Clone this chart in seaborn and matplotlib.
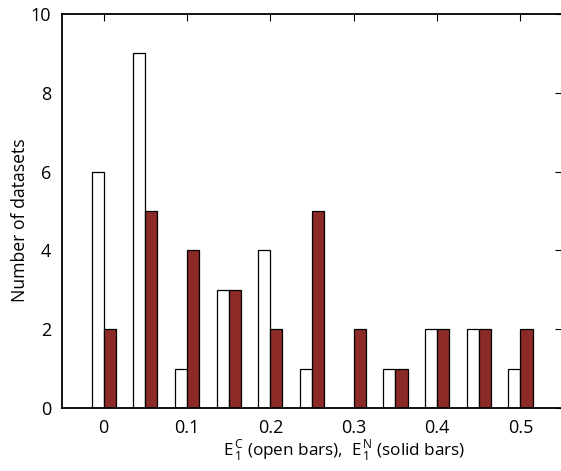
import matplotlib
matplotlib.use("Agg")
import matplotlib.pyplot as plt
import numpy as np
import pandas as pd
import seaborn as sns

# bin centres and counts
bin_centres = [0.0, 0.05, 0.1, 0.15, 0.2, 0.25, 0.3, 0.35, 0.4, 0.45, 0.5]
open_counts = [6, 9, 1, 3, 4, 1, 0, 1, 2, 2, 1]    # E_1^C
solid_counts = [2, 5, 4, 3, 2, 5, 2, 1, 2, 2, 2]   # E_1^N
x_ticks = [0, 0.1, 0.2, 0.3, 0.4, 0.5]
x_tick_labels = ["0", "0.1", "0.2", "0.3", "0.4", "0.5"]
y_ticks = [0, 2, 4, 6, 8, 10]

sns.set_style("white")
plt.rcParams["font.family"] = ["Open Sans", "DejaVu Sans"]
plt.rcParams["mathtext.fontset"] = "custom"
plt.rcParams["mathtext.rm"] = "Open Sans"

df = pd.DataFrame({
    "x": bin_centres * 2,
    "count": open_counts + solid_counts,
    "kind": ["open"] * len(bin_centres) + ["solid"] * len(bin_centres),
})

fig = plt.figure(figsize=(5.61, 4.71), dpi=100)
ax = fig.add_axes([62 / 561, 1 - 408 / 471, 1 - 62 / 561 + 0.002, (408 - 14) / 471])

sns.barplot(
    data=df,
    x="x",
    y="count",
    hue="kind",
    native_scale=True,
    palette={"open": "white", "solid": "#8B2A26"},
    edgecolor="black",
    linewidth=0.9,
    width=0.58,
    saturation=1,
    legend=False,
    ax=ax,
)

ax.set_xlim(-0.05, 0.55)
ax.set_ylim(0, 10)
ax.set_xticks(x_ticks)
ax.set_xticklabels(x_tick_labels)
ax.set_yticks(y_ticks)

for side in ["left", "bottom", "top"]:
    ax.spines[side].set_color("black")
    ax.spines[side].set_linewidth(1.3)
ax.spines["right"].set_visible(False)

ax.tick_params(direction="in", length=5, width=0.8, color="black",
               top=True, right=True, labelsize=13, labelcolor="black", pad=8)

ax.set_ylabel("Number of datasets", fontsize=12.7, color="black")
ax.yaxis.set_label_coords(-0.066, 0.477)
ax.set_xlabel(r"$\mathrm{E}_{\,\mathrm{1}}^{\,\mathrm{C}}$ (open bars),  "
              r"$\mathrm{E}_{\,\mathrm{1}}^{\,\mathrm{N}}$ (solid bars)",
              fontsize=12.3, color="black")
ax.xaxis.set_label_coords(0.565, -0.075)

fig.savefig("out.png", dpi=100)
